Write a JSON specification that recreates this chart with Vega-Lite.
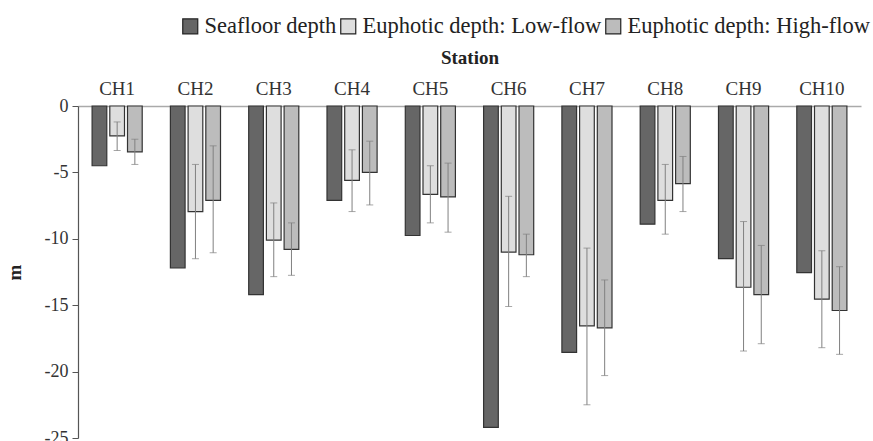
{
  "$schema": "https://vega.github.io/schema/vega-lite/v6.json",
  "width": 783,
  "height": 332,
  "autosize": "none",
  "padding": {"left": 78, "top": 106, "right": 12, "bottom": 3},
  "background": "white",
  "config": {
    "font": "Liberation Serif",
    "view": {"stroke": null}
  },
  "data": {
    "values": [
      {"station": "CH1", "series": "Seafloor depth", "value": -4.5},
      {"station": "CH1", "series": "Euphotic depth: Low-flow", "value": -2.25, "lo": -3.35, "hi": -1.2},
      {"station": "CH1", "series": "Euphotic depth: High-flow", "value": -3.45, "lo": -4.4, "hi": -2.5},
      {"station": "CH2", "series": "Seafloor depth", "value": -12.2},
      {"station": "CH2", "series": "Euphotic depth: Low-flow", "value": -7.95, "lo": -11.5, "hi": -4.4},
      {"station": "CH2", "series": "Euphotic depth: High-flow", "value": -7.1, "lo": -11.05, "hi": -3.0},
      {"station": "CH3", "series": "Seafloor depth", "value": -14.2},
      {"station": "CH3", "series": "Euphotic depth: Low-flow", "value": -10.1, "lo": -12.85, "hi": -7.3},
      {"station": "CH3", "series": "Euphotic depth: High-flow", "value": -10.8, "lo": -12.75, "hi": -8.8},
      {"station": "CH4", "series": "Seafloor depth", "value": -7.1},
      {"station": "CH4", "series": "Euphotic depth: Low-flow", "value": -5.6, "lo": -7.95, "hi": -3.3},
      {"station": "CH4", "series": "Euphotic depth: High-flow", "value": -5.0, "lo": -7.45, "hi": -2.65},
      {"station": "CH5", "series": "Seafloor depth", "value": -9.75},
      {"station": "CH5", "series": "Euphotic depth: Low-flow", "value": -6.65, "lo": -8.8, "hi": -4.5},
      {"station": "CH5", "series": "Euphotic depth: High-flow", "value": -6.85, "lo": -9.5, "hi": -4.3},
      {"station": "CH6", "series": "Seafloor depth", "value": -24.2},
      {"station": "CH6", "series": "Euphotic depth: Low-flow", "value": -11.0, "lo": -15.1, "hi": -6.8},
      {"station": "CH6", "series": "Euphotic depth: High-flow", "value": -11.2, "lo": -12.85, "hi": -9.65},
      {"station": "CH7", "series": "Seafloor depth", "value": -18.55},
      {"station": "CH7", "series": "Euphotic depth: Low-flow", "value": -16.55, "lo": -22.5, "hi": -10.7},
      {"station": "CH7", "series": "Euphotic depth: High-flow", "value": -16.7, "lo": -20.3, "hi": -13.1},
      {"station": "CH8", "series": "Seafloor depth", "value": -8.9},
      {"station": "CH8", "series": "Euphotic depth: Low-flow", "value": -7.1, "lo": -9.65, "hi": -4.4},
      {"station": "CH8", "series": "Euphotic depth: High-flow", "value": -5.85, "lo": -7.95, "hi": -3.8},
      {"station": "CH9", "series": "Seafloor depth", "value": -11.5},
      {"station": "CH9", "series": "Euphotic depth: Low-flow", "value": -13.65, "lo": -18.45, "hi": -8.7},
      {"station": "CH9", "series": "Euphotic depth: High-flow", "value": -14.2, "lo": -17.9, "hi": -10.5},
      {"station": "CH10", "series": "Seafloor depth", "value": -12.55},
      {"station": "CH10", "series": "Euphotic depth: Low-flow", "value": -14.55, "lo": -18.2, "hi": -10.9},
      {"station": "CH10", "series": "Euphotic depth: High-flow", "value": -15.4, "lo": -18.7, "hi": -12.1}
    ]
  },
  "encoding": {
    "x": {
      "field": "station",
      "type": "nominal",
      "sort": ["CH1","CH2","CH3","CH4","CH5","CH6","CH7","CH8","CH9","CH10"],
      "scale": {"paddingInner": 0.36, "paddingOuter": 0.18},
      "axis": {
        "orient": "top",
        "title": "Station",
        "titleFont": "Liberation Serif",
        "titleFontWeight": "bold",
        "titleFontSize": 19,
        "titleColor": "#222",
        "titlePadding": 12,
        "labelAngle": 0,
        "labelFont": "Liberation Serif",
        "labelFontSize": 19,
        "labelColor": "#333",
        "labelPadding": 8,
        "ticks": false,
        "domainColor": "#aaa",
        "domainWidth": 1.5
      }
    },
    "xOffset": {
      "field": "series",
      "type": "nominal",
      "sort": ["Seafloor depth", "Euphotic depth: Low-flow", "Euphotic depth: High-flow"],
      "scale": {"paddingInner": 0.17, "paddingOuter": 0}
    }
  },
  "layer": [
    {
      "mark": {"type": "bar", "stroke": "#333", "strokeWidth": 1.2},
      "encoding": {
        "y": {
          "field": "value",
          "type": "quantitative",
          "scale": {"domain": [-25, 0], "nice": false},
          "axis": {
            "title": "m",
            "titleFont": "Liberation Serif",
            "titleFontWeight": "bold",
            "titleFontSize": 19,
            "titleColor": "#222",
            "titlePadding": 20,
            "values": [0, -5, -10, -15, -20, -25],
            "labelExpr": "toString(datum.value)",
            "labelFont": "Liberation Serif",
            "labelFontSize": 18,
            "labelColor": "#333",
            "labelPadding": 4,
            "grid": false,
            "tickColor": "#555",
            "tickSize": 6,
            "domainColor": "#555",
            "domainWidth": 1.2
          }
        },
        "y2": {"datum": 0},
        "fill": {
          "field": "series",
          "type": "nominal",
          "sort": ["Seafloor depth", "Euphotic depth: Low-flow", "Euphotic depth: High-flow"],
          "scale": {"range": ["#666666", "#dedede", "#bcbcbc"]},
          "legend": {
            "title": null,
            "orient": "none",
            "direction": "horizontal",
            "legendX": 101,
            "legendY": -91,
            "symbolType": "square",
            "symbolSize": 225,
            "symbolStrokeColor": "#222",
            "symbolStrokeWidth": 1.2,
            "symbolOpacity": 1,
            "labelFont": "Liberation Serif",
            "labelFontSize": 22.5,
            "labelColor": "#222",
            "labelLimit": 400,
            "columnPadding": 0,
            "labelOffset": 3
          }
        }
      }
    },
    {
      "mark": {"type": "rule", "color": "#808080", "strokeWidth": 1},
      "encoding": {
        "y": {"field": "lo", "type": "quantitative"},
        "y2": {"field": "hi"}
      }
    },
    {
      "mark": {"type": "tick", "color": "#808080", "thickness": 1, "size": 7},
      "encoding": {"y": {"field": "lo", "type": "quantitative"}}
    },
    {
      "mark": {"type": "tick", "color": "#808080", "thickness": 1, "size": 7},
      "encoding": {"y": {"field": "hi", "type": "quantitative"}}
    }
  ]
}
